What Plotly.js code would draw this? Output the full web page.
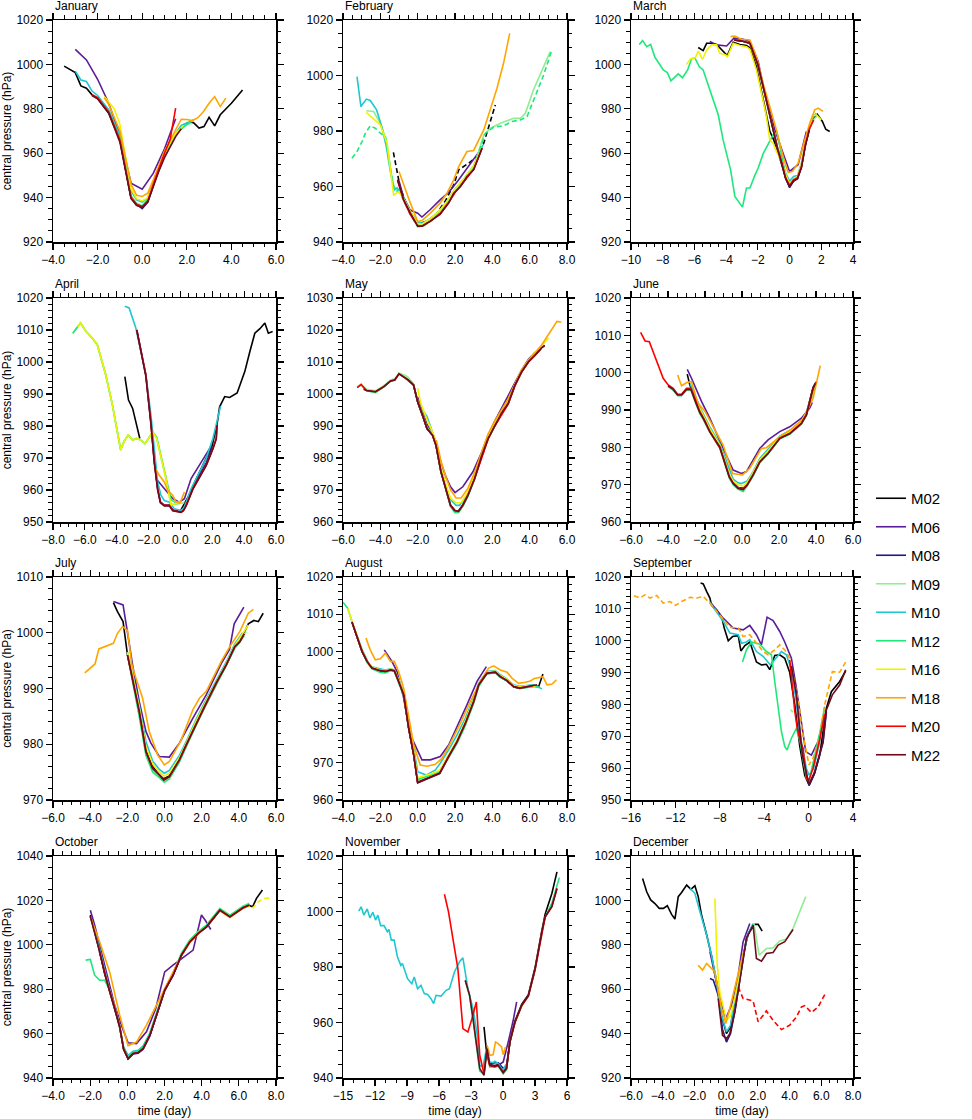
<!DOCTYPE html>
<html><head><meta charset="utf-8">
<script src="https://cdn.plot.ly/plotly-3.0.1.min.js"></script>
<style>html,body{margin:0;padding:0;background:#fff}#chart{width:972px;height:1119px}</style>
</head><body><div id="chart"></div>
<script>
const MODELS = ['M02','M06','M08','M09','M10','M12','M16','M18','M20','M22'];
const COLORS = ['#000000','#5a1d9a','#1a1a8c','#90ee90','#1ec8d2','#1ee87a','#f2f200','#ffa500','#ff0000','#700a1c'];
const MONTHS = ['January','February','March','April','May','June','July','August','September','October','November','December'];

// ---- January ----
const jan_M02 = [[-3.5,999.2],[-3,996.3],[-2.75,990.3],[-2.5,989.3],[-2.25,986.3],[-2,984.6],[-1.5,978],[-1,966],[-0.5,940],[-0.25,936.5],[0,936],[0.25,938.5],[0.5,946],[1,959],[1.5,968.5],[2,973.5],[2.3,973.8],[2.55,971.3],[2.77,972],[3,976.2],[3.25,972.3],[3.5,977.3],[4,982.5],[4.5,988.5]];
const jan_M06 = [[-3,1006.8],[-2.5,1002],[-2,993.3],[-1.5,982.5],[-1,968],[-0.5,946.5],[0,943.8],[0.5,951],[1,962],[1.5,975.5]];
const jan_M08 = [[-2,985],[-1.5,978.5],[-1,966],[-0.5,940],[-0.25,937],[0,935],[0.25,938],[0.5,946],[0.75,953],[1,959],[1.5,968.5],[1.75,972]];
const jan_M09 = [[-2,985],[-1.5,978.5],[-1,966.5],[-0.5,941],[-0.25,937.5],[0,936.5],[0.25,939.5],[0.5,946.5],[1,959.5],[1.5,968.5],[1.75,972],[2,973],[2.25,973.5]];
const jan_M10 = [[-3,997],[-2.75,993],[-2.5,992.3],[-2.25,988],[-2,986],[-1.5,979.5],[-1,968],[-0.5,943],[-0.25,939],[0,938],[0.25,940],[0.5,947],[1,960],[1.5,969],[1.75,972.5],[2,973.5],[2.3,975]];
const jan_M12 = [[-2.25,986],[-2,985],[-1.5,978.5],[-1,966.5],[-0.5,940.5],[-0.25,937],[0,936],[0.25,939],[0.5,946],[0.75,953],[1,959],[1.5,968],[1.75,971],[2,973],[2.3,975]];
const jan_M16 = [[-1.7,985.5],[-1.25,980],[-1,973],[-0.5,944],[-0.25,939.5],[0,938.5],[0.25,940],[0.5,946],[1,960],[1.5,969],[1.85,972.5]];
const jan_M18 = [[-1.7,985],[-1.5,982],[-1,970],[-0.5,946],[-0.25,941],[0,940.5],[0.25,942],[0.5,948],[1,961],[1.5,970.5],[1.75,975.3],[2,975.2],[2.25,974.7],[2.5,976],[2.75,978.8],[3,982.5],[3.25,985.5],[3.5,981],[3.75,984.8]];
const jan_M20 = [[-2.25,986.3],[-2,985],[-1.5,978.5],[-1,966],[-0.5,940],[-0.25,937],[0,936],[0.25,938.5],[0.5,946],[0.75,953.5],[1,960],[1.25,966],[1.42,975],[1.5,980.3]];
const jan_M22 = [[-2.25,986],[-2,984.5],[-1.5,978],[-1,965],[-0.5,939.5],[-0.25,936.5],[0,935.5],[0.25,938],[0.5,945],[0.75,952],[1,958],[1.5,967.5],[1.75,971]];

// ---- February ----
const feb_M02 = [[-1.3,972.3],[-1.1,964.8],[-0.93,959.4],[-0.5,952],[0,946.5],[0.5,947.5],[1,950],[1.5,955],[1.93,960.6],[2.2,966],[2.73,968.4],[3.18,970.8],[3.54,975.6],[4.16,989.4]];
const feb_M06 = [[-1,962],[-0.75,956],[-0.4,951.5],[0,950.4],[0.23,949],[0.68,951.7],[1.2,955.2],[1.66,957.9],[2.2,962.4],[2.9,969],[3.36,973.2]];
const feb_M08 = [[-1.07,962.4],[-0.75,955.5],[-0.4,950.5],[0,946],[0.25,945.8],[0.7,947.8],[1.2,950.5],[1.66,954.5],[2,958],[2.5,962],[3,966.5],[3.45,974]];
const feb_M09 = [[-2.75,987.3],[-2.36,987],[-2,982.8],[-1.68,976.8],[-1.3,960],[-1,958.5],[-0.75,955.5],[-0.4,950.5],[0,946],[0.25,946],[0.7,948],[1.2,951],[1.66,955],[2,958.5],[2.5,962.5],[3,967],[3.54,978.6],[3.9,981],[4.43,982.8],[4.8,983.8],[5.14,984.6],[5.5,984.6],[5.77,986.4],[6.2,994.8],[7.1,1008.6]];
const feb_M10 = [[-3.25,999.6],[-3.04,988.8],[-2.75,991.5],[-2.54,991],[-2.2,987.6],[-1.9,981],[-1.68,974.4],[-1.45,965],[-1.25,958.8],[-1.1,959.5],[-0.75,956],[-0.4,951],[0,947],[0.25,946.8],[0.7,948.5],[1.2,951.5],[1.66,955.5],[2,959],[2.5,963],[3,967.5],[3.5,975]];
const feb_M12 = [[-3.52,970.2],[-3.25,972.6],[-2.98,976.2],[-2.8,979.2],[-2.54,981.9],[-2.27,981],[-2,979.2],[-1.73,978],[-1.45,966],[-1.25,959],[-1,958],[-0.75,955],[-0.4,950],[0,945.5],[0.25,945.5],[0.7,947.5],[1.2,950.5],[1.66,954.5],[2,958],[2.5,962],[3,967],[3.63,979.2],[4.07,981.4],[4.6,981.9],[5.05,983.4],[5.5,984],[5.86,985.2],[6.2,991.2],[6.75,1000.2],[7.16,1008.6]];
const feb_M16 = [[-2.75,986.7],[-2,982.2],[-1.64,975.6],[-1.29,957],[-1,958.2],[-0.75,955.5],[-0.4,951],[0,946.5],[0.25,946.5],[0.7,948.5],[1.2,951.5],[1.66,955.5],[2,959],[2.5,963],[3,967.5],[3.45,974]];
const feb_M18 = [[-1,965.4],[-0.75,960.6],[-0.39,954],[0,947.4],[0.23,947.7],[0.68,950.4],[1.2,954],[1.57,957.6],[1.93,962.4],[2.2,967.2],[2.64,972.6],[3,973],[3.54,980.4],[4.25,995.4],[4.6,1004.4],[4.93,1015.2]];
const feb_M20 = [[-1.07,962],[-0.75,955],[-0.4,950],[0,945.8],[0.25,945.8],[0.7,947.5],[1.2,950.2],[1.66,954.2],[2,957.8],[2.5,961.8],[3,966.2],[3.45,973.8]];
const feb_M22 = [[-1.07,962.4],[-0.75,955.2],[-0.39,950.4],[0,945.7],[0.23,945.7],[0.68,947.5],[1.2,949.9],[1.66,954],[1.93,957.6],[2.3,960],[2.64,963.6],[3,966],[3.45,973.8]];

// ---- March ----
const mar_M02 = [[-5.76,1007.6],[-5.45,1006.2],[-5.23,1009.5],[-4.92,1009.5],[-4.6,1009],[-4.2,1006],[-3.93,1004],[-3.56,1010],[-3.14,1009],[-2.72,1008.5],[-2.5,1007.5],[-2.09,999],[-1.77,988],[-1.46,977],[-1.25,970],[-1,966],[-0.75,961],[-0.5,955],[-0.25,949],[0,945],[0.25,947.5],[0.5,949],[0.75,954],[1,964],[1.25,971],[1.5,975.5],[1.75,977.5],[2.07,974.3],[2.28,970.8],[2.53,969.8]];
const mar_M06 = [[-5.03,1010.3],[-4.6,1008.8],[-3.97,1008.3],[-3.51,1011.8],[-2.93,1011.3],[-2.5,1010.3],[-1.98,1001.3],[-1.56,987],[-1.25,979.5],[-0.93,970.5],[-0.41,960],[0,951.8],[0.54,954.8],[1.06,969.8]];
const mar_M08 = [[-3.5,1011],[-3,1010.5],[-2.5,1009.5],[-2,1000],[-1.5,985],[-1,969.5],[-0.75,962],[-0.5,956],[-0.25,949],[0,944.5],[0.25,947.5],[0.5,948.5],[0.75,954],[1,964],[1.25,971]];
const mar_M09 = [[-3.5,1011],[-3,1010.5],[-2.5,1009.5],[-2,1000],[-1.5,985],[-1,969.5],[-0.75,962],[-0.5,957],[-0.25,950],[0,946.5],[0.25,948.5],[0.5,949],[0.75,954.5],[1,964],[1.25,971],[1.5,975],[1.75,977]];
const mar_M10 = [[-3.5,1011],[-3,1010.5],[-2.5,1009.5],[-2,1000],[-1.5,985],[-1,969.5],[-0.75,962],[-0.5,957.5],[-0.25,951],[0,947.5],[0.25,949.5],[0.5,950],[0.75,955.5],[1,965],[1.25,972],[1.5,976.5],[1.69,978]];
const mar_M12 = [[-9.48,1009],[-9.27,1010.7],[-9.01,1008],[-8.76,1009],[-8.49,1003.2],[-7.96,997.5],[-7.71,996.3],[-7.48,992.6],[-7.02,995.7],[-6.75,994],[-6.43,997.5],[-6.18,1002.6],[-5.97,1002.9],[-5.7,999],[-5.45,997.5],[-5.03,988.5],[-4.65,979.5],[-4.5,977.3],[-4.19,966],[-3.72,952.5],[-3.45,940.5],[-3.14,937.2],[-2.97,935.7],[-2.72,944.3],[-2.5,944.3],[-2.19,950],[-1.98,953.3],[-1.67,959.7],[-1.35,964.2],[-1.04,968.3],[-0.79,969.3],[-0.51,960],[-0.25,950],[0,946],[0.25,948],[0.5,949],[0.75,954.5],[1,964],[1.25,971],[1.5,975]];
const mar_M16 = [[-6.5,1000],[-6.25,1002.5],[-5.95,1003],[-5.76,1006],[-5.49,1002.3],[-5.23,1006.5],[-4.92,1008.8],[-4.6,1008.8],[-4.4,1005],[-4.02,1004.3],[-3.93,1003.2],[-3.56,1009.5],[-3.14,1008.5],[-2.72,1008],[-2.5,1006.8],[-2.09,997.5],[-1.77,987],[-1.46,976.5],[-1.25,966],[-1.04,964.5],[-0.83,960.8],[-0.5,956],[-0.25,950.5],[0,946],[0.25,948],[0.5,949.5],[0.75,955],[1,965],[1.25,972],[1.44,976.8],[1.69,977.3],[2,975]];
const mar_M18 = [[-3.72,1012.5],[-3.45,1012.8],[-3.03,1011.3],[-2.5,1011],[-2.09,1003.5],[-1.67,991.5],[-1.25,981],[-0.83,970.5],[-0.41,958.5],[-0.09,951.3],[0.18,951.8],[0.54,955.5],[0.96,966],[1.27,973.5],[1.59,979.5],[1.8,980.3],[2.11,978.8]];
const mar_M20 = [[-3.5,1011],[-3,1010.5],[-2.5,1009.5],[-2,1000],[-1.5,985],[-1,969],[-0.75,962],[-0.5,956],[-0.25,949],[0,945.5],[0.25,948],[0.5,949],[0.75,954],[1,964],[1.25,971],[1.52,975]];
const mar_M22 = [[-3.5,1011],[-3,1010.5],[-2.5,1009.5],[-2,1000],[-1.5,985],[-1,969],[-0.75,961.5],[-0.5,955.5],[-0.25,948.5],[0,945],[0.25,947.5],[0.5,948.5],[0.75,953.5],[1,963.5],[1.25,970.5]];

// ---- April ----
const apr_M02 = [[-3.49,995.4],[-3.26,988.1],[-3,985.5],[-2.8,981.3],[-2.55,976.1],[-2.4,null],[0,953.5],[0.5,958],[1,963.5],[1.5,968.5],[2,974],[2.3,980.5],[2.46,986],[2.78,989.2],[3.09,988.9],[3.56,990.3],[4.04,997],[4.36,1003.3],[4.67,1009],[4.99,1010.4],[5.3,1012.2],[5.52,1009],[5.79,1009.5]];
const apr_M06 = [[-1.54,963.6],[-1.01,960.4],[-0.48,957.3],[-0.06,956.2],[0.25,957.3],[0.67,963.6],[1.2,967.8],[1.83,973],[1.9,973.5]];
const apr_M08 = [[-2.74,1010],[-2.48,1003.3],[-2.17,996],[-1.85,981],[-1.64,969],[-1.43,960.5],[-1.26,956.3],[-1.01,955.3],[-0.69,955.3],[-0.48,953.8],[0.04,953.2],[0.19,953.8],[0.36,955.5],[0.78,960.6],[1.2,964.5],[1.62,968.5],[2,973.5]];
const apr_M09 = [[-6.76,1009],[-6.27,1012.2],[-5.92,1009.5],[-5.54,1007.5],[-5.22,1005.4],[-4.69,996],[-4.27,986.6],[-3.96,978.2],[-3.75,972.5],[-3.54,975.2],[-3.28,977.2],[-3,975.6],[-2.76,976.1],[-2.48,975.6],[-2.23,974.5],[-2,976.1],[-1.75,978.2],[-1.49,976.1],[-1.22,970.4],[-0.91,963.6],[-0.59,955.5],[-0.3,955.5],[0,955.8],[0.25,956]];
const apr_M10 = [[-3.49,1017.4],[-3.22,1016.9],[-2.8,1010.6],[-2.48,1003.3],[-2.17,996],[-1.85,983.4],[-1.64,971.9],[-1.43,962.5],[-1.22,958.3],[-1.01,956.7],[-0.69,956.2],[-0.38,954.1],[0.04,953.6],[0.25,954.7],[0.67,960.4],[1.2,965.7],[1.62,969.9],[2.04,976.1],[2.46,985.5],[2.52,986.2]];
const apr_M12 = [[-6.76,1009],[-6.27,1012.2],[-5.92,1009.5],[-5.54,1007.5],[-5.22,1005.4],[-4.69,996],[-4.27,986.6],[-3.96,978.2],[-3.75,972.5],[-3.54,975.2],[-3.28,977.2],[-3,975.6],[-2.76,976.1],[-2.48,975.6],[-2.23,974.5],[-2,976.1],[-1.75,978.2],[-1.49,976.5],[-1.22,971],[-0.91,964],[-0.59,957],[-0.3,956],[0,956]];
const apr_M16 = [[-6.45,1011],[-6.27,1012.2],[-5.92,1009.5],[-5.54,1007.5],[-5.22,1005.4],[-4.69,996],[-4.27,986.6],[-3.96,978.2],[-3.75,972.5],[-3.54,975.2],[-3.28,977.2],[-3,975.6],[-2.76,976.1],[-2.48,975.6],[-2.23,974.5],[-2,976.1],[-1.75,978.2],[-1.49,976.1],[-1.22,970.4],[-0.91,963.6],[-0.59,955.2],[-0.3,955.8],[0,956.5]];
const apr_M18 = [[-1.58,966.7],[-1.33,964.6],[-1.01,962.5],[-0.8,959.9],[-0.48,958.3],[-0.27,956.2],[0,956.2],[0.25,959.4]];
const apr_M20 = [[-2.74,1010],[-2.48,1003.3],[-2.17,996],[-1.85,981],[-1.64,968.8],[-1.43,960.4],[-1.26,956.2],[-1.01,955.2],[-0.69,955.2],[-0.48,953.6],[0.04,953.1],[0.19,953.6],[0.36,955.2],[0.78,960.4],[1.2,964.1],[1.62,967.8],[2.04,973],[2.25,976.1],[2.3,980.3]];
const apr_M22 = [[-2.74,1010],[-2.48,1003],[-2.17,995.5],[-1.85,980.5],[-1.64,968.5],[-1.43,960],[-1.26,956],[-1.01,955],[-0.69,955],[-0.48,953.5],[0.04,953],[0.19,953.5],[0.36,955],[0.78,960.2],[1.2,964],[1.62,967.6],[2.04,972.8],[2.25,976],[2.3,980.2]];

// ---- May ----
const may_M02 = [[-2.64,1004.9],[-2.22,1002.8],[-2,997.6],[-1.74,993.4],[-1.5,989.2],[-1.2,987.1],[-1.02,984],[-0.75,975.7],[-0.48,970.4],[-0.24,965.2],[0,963.6],[0.19,963.5],[0.42,965.3],[0.69,968.5],[1.05,973.8],[1.41,980.6],[1.77,986.2],[2.13,990.4],[2.49,994.1],[2.85,997.3],[3.21,1003],[3.57,1007.2],[3.93,1010.3],[4.29,1012.3],[4.65,1014.6],[4.8,1015.2]];
const may_M06 = [[-2,999],[-1.74,994.5],[-1.5,990.5],[-1.2,987.5],[-1.02,985],[-0.75,978.5],[-0.48,974],[-0.24,971],[0,969.2],[0.42,971],[0.96,975.7],[1.41,981.5],[1.77,987],[2.13,991.5],[2.49,995.5],[2.85,999],[3.21,1003.5],[3.57,1007.5],[3.93,1010.8],[4.29,1013]];
const may_M08 = [[-2.22,1002.8],[-2,997.6],[-1.74,993.4],[-1.5,989.2],[-1.2,987.1],[-1.02,984],[-0.75,975.7],[-0.48,970.4],[-0.24,965.2],[0,963.4],[0.19,963.2],[0.42,965.2],[0.69,968.3],[1.05,973.6],[1.41,980.4],[1.77,986.1],[2.13,990.3],[2.49,994],[2.85,997.1],[3.21,1002.8],[3.57,1007],[3.93,1010.1],[4.29,1012.2],[4.5,1013.5]];
const may_M09 = [[-5.24,1002.3],[-5.03,1003],[-4.74,1001.5],[-4.26,1001],[-3.81,1002.6],[-3.45,1004.4],[-3.23,1004.8],[-3,1006.6],[-2.64,1005.7],[-2.51,1005.2],[-2.22,1003.2],[-2,998],[-1.74,993.8],[-1.5,989.6],[-1.2,987.4],[-1.02,984.3],[-0.75,976],[-0.48,970.6],[-0.24,965.4],[0,963.2],[0.19,963.1],[0.42,965],[0.69,968.1],[1.05,973.4],[1.41,980.2],[1.77,986],[2.13,990.2],[2.49,993.9],[2.85,997],[3.21,1002.7],[3.57,1006.9],[3.93,1010],[4.29,1012.1],[4.65,1014.4]];
const may_M10 = [[-1.74,995],[-1.5,993],[-1.2,988],[-1.02,985],[-0.75,977],[-0.48,971],[-0.24,967],[0.06,965.2],[0.24,965.2],[0.69,968.5],[1.05,974],[1.41,980.5],[1.77,986.5],[2.13,990.5],[2.49,994.5],[2.85,998],[3.21,1003],[3.57,1007],[3.93,1010.3],[4.29,1012.5],[4.5,1013.5]];
const may_M12 = [[-5.24,1002],[-5.03,1002.8],[-4.74,1001],[-4.26,1000.4],[-3.81,1002.2],[-3.45,1004],[-3.23,1004.3],[-3,1006.2],[-2.64,1005],[-2.51,1004.4],[-2.22,1002.8],[-2,997.6],[-1.74,993.4],[-1.5,989.2],[-1.2,987.1],[-1.02,984],[-0.75,975.5],[-0.48,970],[-0.24,964.8],[0,962.9],[0.19,963],[0.42,965],[0.69,968],[1.05,973.4],[1.41,980.2],[1.77,986],[2.13,990.2],[2.49,993.9],[2.85,997],[3.21,1002.7],[3.57,1006.9],[3.93,1010],[4.29,1012.1],[4.65,1014.4]];
const may_M16 = [[-2,1001.8],[-1.83,997],[-1.5,992],[-1.2,988],[-1.02,985],[-0.75,977],[-0.48,971.5],[-0.24,967.5],[0.06,966],[0.33,966],[0.69,969.5],[1.05,974.5],[1.41,981],[1.77,987],[2.13,991],[2.49,994.5],[2.85,998],[3.21,1003],[3.57,1007.5],[3.93,1010.5],[4.29,1013],[4.65,1015],[5,1017.5]];
const may_M18 = [[-1,985.6],[-0.75,979],[-0.48,974],[-0.24,970],[0.06,967.5],[0.33,967.5],[0.69,970.5],[1.05,975.5],[1.41,981.5],[1.77,987.5],[2.13,991.5],[2.49,995],[2.85,998.5],[3.21,1003],[3.57,1007.5],[3.93,1010.5],[4.29,1013],[4.65,1015.4],[5,1018.5],[5.46,1022.7],[5.7,1022.4]];
const may_M20 = [[-5.24,1002],[-5.03,1003],[-4.74,1001.1],[-4.26,1000.7],[-3.81,1002.3],[-3.45,1004.1],[-3.23,1004.4],[-3,1006.3],[-2.64,1004.9],[-2.51,1004.4],[-2.22,1002.8],[-2,997.6],[-1.74,993.4],[-1.5,989.2],[-1.2,987.1],[-1.02,984],[-0.75,975.7],[-0.48,970.4],[-0.24,965.2],[0,963.6],[0.19,963.4],[0.42,965.3],[0.69,968.4],[1.05,973.5],[1.41,980],[1.77,985.8],[2.13,990],[2.49,993.6],[2.85,996.8],[3.21,1002.5],[3.57,1006.8],[3.93,1009.9],[4.29,1012],[4.6,1014]];
const may_M22 = [[-4.9,1001.5],[-4.74,1001.1],[-4.26,1000.7],[-3.81,1002.3],[-3.45,1004.1],[-3.23,1004.4],[-3,1006.3],[-2.64,1004.9],[-2.51,1004.4],[-2.22,1002.8],[-2,997.6],[-1.74,993.4],[-1.5,989.2],[-1.2,987.1],[-1.02,984],[-0.75,975.7],[-0.48,970.4],[-0.24,965.2],[-0.03,963.6],[0.19,963.3],[0.42,965.2],[0.69,968.3],[1.05,973.6],[1.41,980.4],[1.77,986.1],[2.13,990.3],[2.49,994],[2.85,997.1],[3.21,1002.8],[3.57,1007],[3.93,1010.1],[4.29,1012.2],[4.65,1014.5],[4.8,1015]];

// ---- June ----
const jun_M02 = [[-2.96,999.6],[-2.82,996.7],[-2.5,993],[-2.2,989.5],[-1.74,985],[-1.2,980.5],[-0.93,976.5],[-0.69,972.5],[-0.48,970.5],[-0.21,969.2],[0.06,969],[0.28,970],[0.6,972.8],[0.96,976.3],[1.41,978.6],[1.77,980.8],[2.04,982.6],[2.58,984],[3.21,986.6],[3.48,989],[3.84,996],[4,997.5]];
const jun_M06 = [[-2.96,1000.9],[-2.73,998.5],[-2.19,992.3],[-1.74,987.8],[-1.02,979.7],[-0.48,973.9],[-0.03,973],[0.24,973.5],[0.96,979.7],[1.41,982],[2.04,984.2],[2.58,985.5],[3.21,987.8],[3.66,990.5],[3.8,992]];
const jun_M08 = [[-2.5,992],[-2.2,989],[-1.74,984.5],[-1.2,980.3],[-0.93,976.3],[-0.69,972.3],[-0.48,970.4],[-0.21,969.1],[0.06,968.9],[0.28,970],[0.6,972.7],[0.96,976.2],[1.41,978.5],[1.77,980.7],[2.04,982.5],[2.58,983.8],[3.21,986.5],[3.48,988.8],[3.84,995.6]];
const jun_M09 = [[-2.6,993.5],[-2.28,989.8],[-1.74,984.5],[-1.2,980.4],[-0.93,976.4],[-0.69,972.4],[-0.48,970.5],[-0.21,969.2],[0.06,968.5],[0.28,970.2],[0.6,972.9],[0.96,976.4],[1.41,978.7],[1.77,980.9],[2.04,982.7],[2.58,984],[3.21,986.7],[3.48,989],[3.84,995.5],[3.98,996.5]];
const jun_M10 = [[-2.8,997],[-2.5,993.5],[-2.2,990],[-1.74,985.5],[-1.2,981],[-0.93,977.5],[-0.69,974],[-0.48,971.5],[-0.21,970.5],[-0.03,970.3],[0.28,971],[0.6,973.5],[0.96,977],[1.41,979.5],[1.77,981.5],[2.04,983],[2.58,984.5],[3.21,987],[3.48,989.5],[3.84,994.5],[3.98,996.3]];
const jun_M12 = [[-4,996.3],[-3.72,995.3],[-3.48,993.8],[-3.27,993.8],[-3,995.3],[-2.76,995.3],[-2.5,991.8],[-2.28,989],[-2.1,987.5],[-1.74,984],[-1.2,979.8],[-0.93,975.8],[-0.69,971.8],[-0.48,970],[-0.21,968.8],[0.06,968.2],[0.28,969.6],[0.6,972.3],[0.96,975.8],[1.41,978.2],[1.77,980.4],[2.04,982.2],[2.58,983.5],[3.21,986.2],[3.48,988.5],[3.84,995.5],[3.95,996.8]];
const jun_M16 = [[-2.5,992.5],[-2.2,989.5],[-1.74,985],[-1.2,980.6],[-0.93,976.6],[-0.69,972.8],[-0.48,971],[-0.21,970],[0.06,969.6],[0.28,970.6],[0.6,973.2],[0.96,976.6],[1.41,979],[1.77,981],[2.04,982.8],[2.58,984.2],[3.21,986.8],[3.48,989.2],[3.84,995]];
const jun_M18 = [[-3.48,999.4],[-3.27,996.5],[-2.96,997.4],[-2.73,997.6],[-2.4,992],[-2,989.6],[-1.5,985],[-1.02,980.6],[-0.51,973],[0.03,972.6],[0.42,974.4],[1.05,979.7],[1.32,979.9],[2.04,982.8],[2.67,984.9],[3.3,987.6],[3.84,993.1],[4.23,1001.9]];
const jun_M20 = [[-5.48,1010.8],[-5.24,1008.5],[-5.01,1008.3],[-4.71,1004.3],[-4.26,998.5],[-3.99,996.7],[-3.72,995.8],[-3.48,994.2],[-3.27,994.2],[-3,995.8],[-2.76,995.8],[-2.5,992.5],[-2.28,989.6],[-2,987],[-1.74,984.2],[-1.2,979.9],[-0.93,976],[-0.69,972.2],[-0.48,970.5],[-0.21,969.2],[0.06,968.8],[0.28,970],[0.6,972.6],[0.96,976.1],[1.41,978.4],[1.77,980.6],[2.04,982.4],[2.58,983.7],[3.21,986.4],[3.48,988.7],[3.84,995.8],[4,997.5]];
const jun_M22 = [[-4,996.5],[-3.72,995.5],[-3.48,994],[-3.27,994],[-3,995.5],[-2.76,995.5],[-2.5,992],[-2.28,989.3],[-2.1,987.8],[-1.74,984.2],[-1.2,980.1],[-0.93,976.1],[-0.69,972.1],[-0.48,970.3],[-0.21,969],[0.06,968.7],[0.28,969.9],[0.6,972.6],[0.96,976.1],[1.41,978.4],[1.77,980.6],[2.04,982.4],[2.58,983.7],[3.21,986.4],[3.48,988.7],[3.84,995.8],[3.95,997]];

// ---- July ----
const jul_M02 = [[-2.75,1005.4],[-2.53,1003.8],[-2.23,1002],[-2.08,998.4],[-1.99,996],[-1.72,992],[-1.36,986],[-1,979],[-0.64,976],[-0.28,974.5],[-0.04,973.8],[0.26,974.3],[0.8,977.3],[1.17,980],[1.71,983.8],[2.16,986.8],[2.79,991],[3.33,994.3],[3.78,997.5],[4.05,998.5],[4.29,1000],[4.51,1001.6],[4.81,1002.2],[5.05,1002],[5.31,1003.5]];
const jul_M06 = [[-2.75,1005.6],[-2.23,1005],[-1.99,1000],[-1.72,994.3],[-1.36,987.7],[-1,982.3],[-0.73,980.2],[-0.28,977.8],[0.26,977.7],[0.8,980.2],[1.53,984.7],[2.25,988.9],[3.06,994.5],[3.5,997],[3.75,1001.6],[4.27,1004.6]];
const jul_M08 = [[-1.99,996],[-1.72,991.8],[-1.36,985.8],[-1,978.6],[-0.64,975.6],[-0.28,974.4],[-0.04,973.5],[0.26,974.1],[0.8,977.1],[1.17,979.8],[1.71,983.7],[2.16,986.7],[2.79,990.9],[3.33,994.2],[3.78,997.4],[4.05,998.3]];
const jul_M09 = [[-1.99,996.2],[-1.72,991.6],[-1.36,985.3],[-1,978.3],[-0.64,975.3],[-0.28,974.2],[-0.01,973.4],[0.26,974],[0.8,977],[1.17,979.7],[1.71,983.6],[2.16,986.6],[2.79,990.8],[3.33,994.1],[3.78,997.6],[4.05,998.8],[4.4,1000.2]];
const jul_M10 = [[-1.99,996.5],[-1.72,992.5],[-1.36,987],[-1,980.5],[-0.64,977],[-0.28,975.5],[-0.01,974.8],[0.26,975.3],[0.8,978],[1.17,980.5],[1.71,984.5],[2.16,987.5],[2.79,991.5],[3.33,994.8],[3.78,998],[4.2,1000]];
const jul_M12 = [[-1.99,996],[-1.72,991.5],[-1.36,985],[-1,978],[-0.64,975],[-0.28,974],[-0.01,973.2],[0.26,973.8],[0.8,976.8],[1.17,979.5],[1.71,983.5],[2.16,986.5],[2.79,990.7],[3.33,994],[3.78,997.2],[4.05,998.3],[4.29,999.5]];
const jul_M16 = [[-1.99,996.5],[-1.72,992.3],[-1.36,986.5],[-1,979.5],[-0.64,976.5],[-0.28,975],[-0.01,974.3],[0.26,974.8],[0.8,977.6],[1.17,980.2],[1.71,984.2],[2.16,987.2],[2.79,991.2],[3.33,994.5],[3.78,997.7],[4.3,1000.5],[4.51,1001.4]];
const jul_M18 = [[-4.29,992.8],[-3.74,994.4],[-3.53,997.1],[-3.17,997.5],[-2.75,998.1],[-2.53,999.9],[-2.26,1001.1],[-1.99,1000.4],[-1.76,994.3],[-1.54,991.9],[-1.18,988.3],[-0.82,982.3],[-0.37,978.1],[-0.01,976.3],[0.26,976.9],[0.9,980.8],[1.53,986.2],[1.89,988.3],[2.25,989.5],[2.61,991.9],[3.06,994.9],[3.51,997.5],[4.05,1000.2],[4.51,1003.5],[4.78,1004.2]];
const jul_M20 = [[-1.99,996],[-1.72,991.9],[-1.36,985.9],[-1,978.7],[-0.64,975.7],[-0.28,974.5],[-0.04,973.6],[0.26,974.2],[0.8,977.2],[1.17,979.9],[1.71,983.8],[2.16,986.8],[2.79,991],[3.33,994.3],[3.78,997.5],[4.05,998.4],[4.29,999.8]];
const jul_M22 = [[-1.99,996],[-1.72,991.9],[-1.36,985.9],[-1,978.7],[-0.64,975.7],[-0.28,974.5],[-0.04,973.6],[0.26,974.2],[0.8,977.2],[1.17,979.9],[1.71,983.8],[2.16,986.8],[2.79,991],[3.33,994.3],[3.78,997.5],[4.05,998.4],[4.29,999.8]];

// ---- August ----
const aug_M02 = [[-3.52,1007.9],[-3.25,1004],[-2.98,1000],[-2.71,997.3],[-2.45,995.5],[-2,994.8],[-1.73,994.6],[-1.46,995],[-1.25,994.8],[-1.02,991.9],[-0.75,988.3],[-0.48,979.3],[-0.21,972.1],[0,964.9],[0.32,965.5],[0.68,966.4],[1.18,967.3],[1.66,971.8],[2.11,975.8],[2.55,980.7],[3,986.6],[3.27,991],[3.71,994.1],[4.16,994.4],[4.43,993.2],[4.79,992.1],[5.14,990.5],[5.46,990.1],[5.86,990.5],[6.21,990.8],[6.48,990.5],[6.71,993.9]];
const aug_M06 = [[-1.79,1000.4],[-1.38,997.3],[-1.11,994.6],[-0.75,987.4],[-0.39,977.5],[0,973],[0.23,970.8],[0.68,970.8],[1.21,971.7],[1.66,974.8],[2.29,981.5],[2.64,985.6],[3.18,991.9],[3.68,995.9]];
const aug_M08 = [[-3.52,1007.9],[-3.25,1004],[-2.98,1000],[-2.71,997.3],[-2.45,995.5],[-2,994.8],[-1.73,994.6],[-1.46,995],[-1.25,994.8],[-1.02,991.9],[-0.75,988.3],[-0.48,979.3],[-0.21,972.1],[0,964.6],[0.32,965.3],[0.68,966.2],[1.18,967.1],[1.66,971.6],[2.11,975.6],[2.55,980.5],[3,986.4],[3.27,990.9],[3.71,994],[4.16,994.3],[4.43,993.1],[4.79,992],[5.14,990.4],[5.46,990],[5.86,990.4],[6.21,990.7]];
const aug_M09 = [[-3.52,1008],[-3.25,1004.2],[-2.98,1000.2],[-2.71,997.4],[-2.45,995.6],[-2,994.9],[-1.73,994.7],[-1.46,995.1],[-1.25,994.9],[-1.02,992],[-0.75,988.4],[-0.48,979.6],[-0.21,972.5],[0,965.2],[0.32,965.8],[0.68,966.6],[1.18,967.6],[1.66,972],[2.11,976],[2.55,981],[3,986.8],[3.27,991.2],[3.71,994.3],[4.16,994.6],[4.43,993.4],[4.79,992.3],[5.14,990.7],[5.46,990.3],[5.86,990.7],[6.21,991]];
const aug_M10 = [[-3.52,1008],[-3.25,1004.5],[-2.98,1000.5],[-2.54,995.9],[-2,995.3],[-1.73,995],[-1.46,995.3],[-1.25,995],[-1.02,992.5],[-0.75,989],[-0.48,980.5],[-0.21,974],[0,967.6],[0.46,966.7],[0.95,968.1],[1.21,969.9],[1.66,973.5],[2.11,977.5],[2.55,982],[3,987.5],[3.27,991.5],[3.71,994.6],[4.16,994.8],[4.43,993.7],[4.79,992.5],[5.14,991],[5.46,990.6],[5.86,990.8],[6.21,991],[6.66,989.9]];
const aug_M12 = [[-4,1013.2],[-3.75,1011.6],[-3.52,1008],[-3.25,1004],[-2.98,1000],[-2.71,997],[-2.45,995.3],[-2,994.3],[-1.73,994.2],[-1.46,994.8],[-1.25,994.6],[-1.02,991.5],[-0.75,988],[-0.48,979.5],[-0.21,972.5],[0,965.5],[0.32,966],[0.68,966.6],[1.18,967.5],[1.66,971.5],[2.11,975.2],[2.55,980],[3,986],[3.27,990.5],[3.71,994],[4.16,994.2],[4.43,993],[4.79,992],[5.14,990.5],[5.46,990],[5.86,990.3],[6.21,990.5],[6.5,990.3]];
const aug_M16 = [[-3.75,1011.6],[-3.52,1008],[-3.25,1004.2],[-2.98,1000.2],[-2.71,997.5],[-2.45,995.7],[-2,995],[-1.73,994.8],[-1.46,995.2],[-1.25,995],[-1.02,992.2],[-0.75,988.6],[-0.48,980],[-0.21,973],[0,966],[0.32,966.4],[0.68,967],[1.18,968],[1.66,972.2],[2.11,976.2],[2.55,981.2],[3,987],[3.27,991.3],[3.71,994.4],[4.16,994.7],[4.43,993.5],[4.79,992.4],[5.14,990.8],[5.46,990.4],[5.86,990.8],[6.3,990.4]];
const aug_M18 = [[-2.77,1003.6],[-2.54,1000.4],[-2.27,997.7],[-2,998],[-1.73,999.5],[-1.46,997.3],[-1.25,997.3],[-1.02,994.6],[-0.75,990.1],[-0.48,982.9],[-0.21,974.8],[0.14,969.4],[0.5,969.1],[0.95,969.6],[1.3,971.2],[1.66,974.4],[2.29,980.6],[2.82,986.5],[3.36,991.9],[3.8,995.5],[4.07,996.1],[4.43,995],[4.79,994.4],[5.05,992.8],[5.41,991.4],[5.77,991.7],[6.04,992],[6.21,992.6],[6.48,993],[6.71,993.2],[6.93,991],[7.2,991.2],[7.43,992.3]];
const aug_M20 = [[-3.52,1007.9],[-3.25,1004],[-2.98,1000],[-2.71,997.3],[-2.45,995.5],[-2,994.8],[-1.73,994.6],[-1.46,995],[-1.25,994.8],[-1.02,991.9],[-0.75,988.3],[-0.48,979.3],[-0.21,972.1],[0,964.7],[0.32,965.4],[0.68,966.3],[1.18,967.2],[1.66,971.7],[2.11,975.7],[2.55,980.6],[3,986.5],[3.27,991],[3.71,994.1],[4.16,994.4],[4.43,993.2],[4.79,992.1],[5.14,990.5],[5.46,990.1],[5.86,990.5],[6.21,990.8]];
const aug_M22 = [[-3.52,1007.9],[-3.25,1004],[-2.98,1000],[-2.71,997.3],[-2.45,995.5],[-2,994.8],[-1.73,994.6],[-1.46,995],[-1.25,994.8],[-1.02,991.9],[-0.75,988.3],[-0.48,979.3],[-0.21,972.1],[0,964.7],[0.32,965.4],[0.68,966.3],[1.18,967.2],[1.66,971.7],[2.11,975.7],[2.55,980.6],[3,986.5],[3.27,991],[3.71,994.1],[4.16,994.4],[4.43,993.2],[4.79,992.1],[5.14,990.5],[5.46,990.1],[5.86,990.5],[6.21,990.8],[6.4,991]];

// ---- September ----
const sep_M02 = [[-9.73,1018.1],[-9.49,1017.8],[-9.19,1015.5],[-8.89,1013.4],[-8.74,1011.1],[-8.29,1009.7],[-7.84,1007.6],[-7.6,1004],[-7.24,1000],[-6.85,1001.3],[-6.34,1001.6],[-6.1,996.8],[-5.74,998.5],[-5.29,999.6],[-4.7,993.3],[-4.25,992.4],[-3.8,992.6],[-3.5,990.9],[-3.05,995.4],[-2.6,995.6],[-2.15,994.5],[-1.7,990],[-1.25,980],[-0.8,967],[-0.35,957.8],[0.04,954.7],[0.5,958],[1,964.1],[1.6,978.8],[2.05,984],[2.8,987.2],[3.34,990.5]];
const sep_M06 = [[-8.89,1012.3],[-7.84,1007.6],[-6.79,1004],[-5.9,1003.4],[-5.3,1004.8],[-4.7,1001.9],[-4.25,998.7],[-3.74,1007.4],[-3.2,1006.3],[-2.6,1002.9],[-2.15,999.6],[-1.55,994.5],[-1.1,985.1],[-0.65,974.6],[-0.26,965.2],[0.25,964.1],[0.85,968.3],[1.45,975.7]];
const sep_M08 = [[-1.55,991.5],[-1.1,982],[-0.56,963.5],[0.04,954.5],[0.55,958.5],[1.3,968],[1.6,977.5]];
const sep_M09 = [[-1.62,978.3],[-1.4,977.6]];
const sep_M10 = [[-8.9,1012],[-8.29,1009],[-7.69,1006.1],[-7.09,1002.4],[-6.34,1001.9],[-6.04,999.2],[-5.6,999.6],[-5.3,1000.3],[-4.7,996.6],[-4.1,995.1],[-3.44,992.4],[-2.9,994.7],[-2.45,996.6],[-2,995.6],[-1.55,990.9],[-1.1,980.9],[-0.65,968.3],[-0.2,959.9],[0.04,957.8],[0.46,959.9],[1,968.3],[1.45,979.3]];
const sep_M12 = [[-5.96,993.3],[-5.6,997.1],[-5.15,999.6],[-4.4,998.9],[-3.8,996.6],[-3.35,995.6],[-3.05,987.2],[-2.75,979.9],[-2.45,971.5],[-2.15,966.8],[-1.94,965.7],[-1.55,969.4],[-1.1,972.5],[-0.75,968],[-0.4,960.5],[-0.2,956.8],[0.04,956],[0.5,963],[1,971],[1.45,979]];
const sep_M18 = [[-15.73,1014.1],[-15.19,1013.4],[-14.74,1014.4],[-14.29,1013.4],[-13.69,1014.2],[-13.09,1011.8],[-12.49,1012.3],[-11.98,1011.1],[-11.44,1012.3],[-10.69,1013.6],[-10.09,1013.4],[-9.49,1013.9],[-8.89,1011.8],[-8.29,1009.2],[-7.69,1006.6],[-7.09,1004.2],[-6.34,1004],[-5.9,1001.3],[-5.3,1001.9],[-4.7,999.2],[-4.1,996.6],[-3.65,995.6],[-3.05,997.1],[-2.6,998.7],[-2.15,997.1],[-1.7,994.5],[-1.25,987.2],[-0.86,979.9],[-0.56,971.5],[-0.2,965.2],[0.04,961],[0.4,963.1],[1,970.4],[1.45,979.9],[2.14,990.3],[2.8,990.1],[3.4,993.7]];
const sep_M20 = [[-1.7,994],[-1.25,978],[-1,972],[-0.75,968.5],[-0.5,966.2],[-0.2,956.8],[0.04,956.3],[0.4,960],[1,969],[1.45,977]];
const sep_M22 = [[-1.55,992],[-1.1,983],[-0.56,964.1],[0.04,954.9],[0.55,958.9],[1.3,968.3],[1.6,978.3],[2.14,983],[2.8,986.1],[3.34,990.9]];

// ---- October ----
const oct_M02 = [[-1.99,1013.4],[-1.76,1006],[-1.49,997],[-1.22,987],[-1,980.5],[-0.68,972],[-0.41,963],[-0.2,953.2],[0.04,948.8],[0.31,951.1],[0.58,951.5],[0.85,953.3],[1.21,959.3],[1.57,968.4],[2.01,979.6],[2.46,986.4],[2.91,995.4],[3.36,1001.4],[3.81,1005.2],[4.26,1008.2],[4.62,1012],[4.98,1015.7],[5.52,1012.7],[5.87,1014.7],[6.23,1016.8],[6.56,1017.8],[6.74,1017.1],[6.95,1020.9],[7.27,1024.7]];
const oct_M06 = [[-1.99,1015.6],[-1.76,1008.9],[-1.49,999.8],[-1.13,987.8],[-0.68,972.8],[-0.32,963.8],[0.04,955.9],[0.49,955.5],[1.03,960.8],[1.53,971.3],[2.01,987.8],[2.46,990.8],[2.91,993.8],[3.54,997.6],[3.99,1013.4],[4.22,1010.7],[4.49,1006.9]];
const oct_M08 = [[-1.5,997],[-1.22,987],[-1,980.5],[-0.68,972],[-0.41,963],[-0.2,953],[0.04,948.5],[0.31,950.8],[0.58,951.2],[0.85,953],[1.21,959],[1.57,968.2],[2.01,979.4],[2.46,986.2],[2.91,995.2],[3.36,1001.2],[3.81,1005],[4.26,1008],[4.62,1011.8],[4.98,1015.5],[5.52,1012.5],[5.87,1014.5],[6.23,1016.6],[6.5,1017.6]];
const oct_M09 = [[-1.5,997.5],[-1.22,987.5],[-1,981],[-0.68,972.5],[-0.41,963.5],[-0.2,953.8],[0.04,949.8],[0.31,951.8],[0.58,952.2],[0.85,954.2],[1.21,960.2],[1.57,969.2],[2.01,980.2],[2.46,987.2],[2.91,996.2],[3.36,1002.2],[3.81,1006],[4.26,1009],[4.62,1012.7],[4.98,1016.4],[5.52,1013.4],[5.87,1015.4],[6.23,1017.5],[6.56,1018.7]];
const oct_M10 = [[-2,1013],[-1.49,998],[-1,981],[-0.5,966],[-0.2,954],[0.04,950.2],[0.31,952],[0.58,952.5],[0.85,954.5],[1.21,960],[1.57,969],[2.01,980],[2.46,987],[2.91,995.5],[3.36,1001.5],[3.81,1005.3],[4.26,1008.3],[4.62,1012],[4.98,1015.8],[5.52,1012.8],[5.87,1014.8],[6.23,1016.9],[6.5,1018]];
const oct_M12 = [[-2.24,993.1],[-1.99,993.4],[-1.76,986.3],[-1.49,984],[-1.22,984],[-1,980.5],[-0.68,972],[-0.41,963],[-0.2,953.5],[0.04,949.5],[0.31,951.5],[0.58,952],[0.85,954],[1.21,960],[1.57,969],[2.01,980],[2.46,987],[2.91,996],[3.36,1002],[3.81,1005.8],[4.26,1008.8],[4.62,1012.5],[4.98,1016.2],[5.52,1013.2],[5.87,1015.2],[6.23,1017.3],[6.56,1018.5]];
const oct_M16 = [[6.3,1017.2],[6.56,1017.6],[6.77,1016.7],[7.04,1019.4],[7.4,1020.9],[7.76,1021.2]];
const oct_M18 = [[-1.99,1012.6],[-1.49,1001.4],[-0.95,987.8],[-0.41,968.3],[0.04,954.6],[0.49,956.2],[1.03,963.8],[1.57,972.8],[2.1,981.8],[2.82,993.8],[3.36,1001],[3.81,1005],[4.26,1008],[4.62,1011.5],[4.98,1015.3],[5.52,1012.3],[5.87,1014.3],[6.23,1016.5],[6.56,1017.5]];
const oct_M20 = [[-1.5,997],[-1.22,987],[-1,980.5],[-0.68,972],[-0.41,963],[-0.2,953],[0.04,948.8],[0.31,951],[0.58,951.4],[0.85,953.2],[1.21,959.2],[1.57,968.3],[2.01,979.5],[2.46,986.3],[2.91,995.3],[3.36,1001.3],[3.81,1005.1],[4.26,1008.1],[4.62,1011.9],[4.98,1015.6],[5.52,1012.6],[5.87,1014.6],[6.23,1016.7],[6.5,1017.7]];
const oct_M22 = [[-2,1013],[-1.76,1006],[-1.49,997],[-1.22,987],[-1,980.5],[-0.68,972],[-0.41,963],[-0.2,953],[0.04,948.7],[0.31,951],[0.58,951.4],[0.85,953.2],[1.21,959.2],[1.57,968.3],[2.01,979.5],[2.46,986.3],[2.91,995.3],[3.36,1001.3],[3.81,1005.1],[4.26,1008.1],[4.62,1011.9],[4.98,1015.6],[5.52,1012.6],[5.87,1014.6],[6.23,1016.7],[6.56,1017.9]];

// ---- November ----
const nov_M02 = [[-1.78,958.4],[-1.56,950],[-1.24,944.8],[-0.77,944.5],[-0.45,944.8],[0.02,942.2],[0.33,943.6],[0.65,953.2],[1.12,960.5],[1.75,966.5],[2.38,970],[3.01,979.8],[3.64,993],[3.95,999],[4.58,1006.5],[5.06,1014.3]];
const nov_M06 = [[-0.45,944.6],[0.02,945.8],[0.49,953],[0.96,960.8],[1.28,967.4]];
const nov_M08 = [[-1.24,945],[-0.77,945.5],[-0.45,945.5],[0.02,943.5],[0.33,944.5],[0.65,953]];
const nov_M10 = [[-13.52,1000.1],[-13.3,1001.7],[-13.05,998.7],[-12.73,1000.9],[-12.48,997.7],[-12.2,999.7],[-11.95,996.9],[-11.73,998.7],[-11.47,994.9],[-11.16,994.9],[-10.84,992.7],[-10.69,993.5],[-10.47,989.7],[-10.21,989.7],[-9.9,983.7],[-9.58,980.6],[-9.43,981.3],[-8.95,975.8],[-8.55,974],[-8.32,976.4],[-8.01,972.2],[-7.69,973.4],[-7.38,970.4],[-7.07,970.1],[-6.75,968.6],[-6.5,966.8],[-6.28,969.8],[-5.81,969.5],[-5.33,971.6],[-5.02,972.2],[-4.55,978.2],[-4.07,981.9],[-3.76,983.3],[-3.54,978.2],[-3.29,972.2],[-2.81,965],[-2.41,955.4],[-2.18,944.6],[-1.87,944],[-1.56,950.5],[-1.24,945.8],[-0.93,945.5],[-0.77,946],[-0.45,945.2],[-0.04,942.7],[0.3,945]];
const nov_M12 = [[-3.54,975],[-3.13,969.5],[-2.81,961],[-2.5,951.5],[-2.18,942.5],[-1.78,941.5],[-1.49,950],[-1.24,944],[-0.77,944],[-0.45,944.3],[0.02,941.5],[0.33,943],[0.65,952.8],[1.12,960],[1.75,966],[2.38,969.6],[3.01,979.2],[3.64,992.5],[3.95,998],[4.58,1003],[5.28,1012.2]];
const nov_M18 = [[-1.49,951.8],[-1.24,948.2],[-0.93,948.4],[-0.7,953],[-0.45,952.4],[-0.14,951.2],[0.02,948.4],[0.24,951.2]];
const nov_M20 = [[-5.49,1006.2],[-5.11,999.9],[-4.7,990.3],[-4.23,979.4],[-3.76,957.8],[-3.29,956.6],[-2.91,961.4],[-2.5,967.4],[-2.18,948.2],[-1.78,941.5],[-1.56,949],[-1.24,944.5],[-0.77,944],[-0.45,944.5],[0.02,942],[0.33,943.5],[0.65,953],[1.12,960],[1.75,966],[2.38,969.5],[3.01,979],[3.64,992.5],[3.95,998],[4.58,1001.7],[5.06,1008.3]];
const nov_M22 = [[-3.54,975.2],[-3.13,969.8],[-2.81,961.4],[-2.5,951.8],[-2.18,943.4],[-1.78,941],[-1.49,950.6],[-1.24,944.6],[-0.77,944.3],[-0.45,944.6],[0.02,941.9],[0.33,943.4],[0.65,953],[1.12,960.2],[1.75,966.2],[2.38,969.8],[3.01,979.4],[3.64,992.7],[3.95,998.1],[4.58,1001.7],[5.06,1008.3]];

// ---- December ----
const dec_M02 = [[-5.27,1009.9],[-5.01,1003.9],[-4.76,1000.2],[-4.49,998.6],[-4.22,996.4],[-3.96,996.4],[-3.71,997.6],[-3.44,993.7],[-3.23,991.6],[-3.02,1001.7],[-2.81,1003.6],[-2.49,1006.9],[-2.22,1005],[-1.97,1006.6],[-1.76,1001.7],[-1.55,993.4],[-1.23,984.5],[-0.92,975],[-0.6,963],[-0.29,948],[0.02,940],[0.28,943],[0.55,955],[0.97,972],[1.39,985],[1.81,989.2],[2.02,989.2],[2.27,986.2]];
const dec_M06 = [[-1.02,976.8],[-0.81,969.3],[-0.4,955.8],[-0.02,946.8],[0.34,952.8],[0.76,966.3],[1.07,981.4],[1.49,989.6]];
const dec_M08 = [[-1.02,964.8],[-0.81,964.1],[-0.5,957.3],[-0.23,942],[0.02,936.2],[0.28,940],[0.55,950],[0.86,965],[1.28,983],[1.6,988]];
const dec_M09 = [[1.75,989.6],[2.08,975.3],[2.54,978.3],[2.96,978.6],[3.38,981.7],[3.8,982.6],[4.22,987.4],[5.02,1001.7]];
const dec_M10 = [[-2.28,1005.4],[-1.97,1003.2],[-1.65,994.9],[-1.23,984.4],[-0.92,975.3],[-0.6,963.3],[-0.29,948.3],[0.02,940.8],[0.28,943.8],[0.55,955.8],[0.97,972.3],[1.39,985.1],[1.7,989.6]];
const dec_M16 = [[-0.71,1000.9],[-0.56,970.8],[-0.4,958.8],[-0.08,948.3],[0.02,946],[0.28,948],[0.55,956],[0.97,970]];
const dec_M18 = [[-1.76,970.8],[-1.49,968.6],[-1.23,971.6],[-0.92,969.6],[-0.71,967.8],[-0.29,951.3],[-0.02,944.5],[0.23,951.3],[0.65,963.3],[1.07,976.1]];
const dec_M20 = [[0.76,961],[1.07,955.8],[1.7,954.7],[2.02,945.3],[2.54,950.2],[2.96,946],[3.49,941.8],[4.01,943.8],[4.43,947.5],[4.75,952],[4.96,952.6],[5.38,949.5],[5.8,952],[6.22,957.6]];
const dec_M22 = [[-0.5,955.8],[-0.23,939.2],[0.02,937.7],[0.23,940],[0.55,949.8],[0.86,964.8],[1.28,982.9],[1.7,988.9],[1.91,973.8],[2.23,972.6],[2.54,976.1],[2.96,976.5],[3.28,979.9],[3.7,981.4],[4.22,986.9]];

// axis settings per panel
const X_RANGES = [[-4,6],[-4,8],[-10,4],[-8,6],[-6,6],[-6,6],[-6,6],[-4,8],[-16,4],[-4,8],[-15,6],[-6,8]];
const X_DTICK = [2,2,2,2,2,2,2,2,4,2,3,2];
const X_MINOR = [0.5,0.5,0.5,0.5,0.5,0.5,0.5,0.5,1,0.5,1,0.5];
const X_FMT = ['.1f','.1f','d','.1f','.1f','.1f','.1f','.1f','d','.1f','d','.1f'];
const Y_RANGES = [[920,1020],[940,1020],[920,1020],[950,1020],[960,1030],[960,1020],[970,1010],[960,1020],[950,1020],[940,1040],[940,1020],[920,1020]];
const Y_DTICK = [20,20,20,10,10,10,10,10,10,20,20,20];
const Y_MINOR = [5,5,5,2,2,2,2,2,2,5,5,5];

// assemble table from the named arrays
const PANELS = [
 {M02:jan_M02,M06:jan_M06,M08:jan_M08,M09:jan_M09,M10:jan_M10,M12:jan_M12,M16:jan_M16,M18:jan_M18,M20:jan_M20,M22:jan_M22},
 {M02:feb_M02,M06:feb_M06,M08:feb_M08,M09:feb_M09,M10:feb_M10,M12:feb_M12,M16:feb_M16,M18:feb_M18,M20:feb_M20,M22:feb_M22},
 {M02:mar_M02,M06:mar_M06,M08:mar_M08,M09:mar_M09,M10:mar_M10,M12:mar_M12,M16:mar_M16,M18:mar_M18,M20:mar_M20,M22:mar_M22},
 {M02:apr_M02,M06:apr_M06,M08:apr_M08,M09:apr_M09,M10:apr_M10,M12:apr_M12,M16:apr_M16,M18:apr_M18,M20:apr_M20,M22:apr_M22},
 {M02:may_M02,M06:may_M06,M08:may_M08,M09:may_M09,M10:may_M10,M12:may_M12,M16:may_M16,M18:may_M18,M20:may_M20,M22:may_M22},
 {M02:jun_M02,M06:jun_M06,M08:jun_M08,M09:jun_M09,M10:jun_M10,M12:jun_M12,M16:jun_M16,M18:jun_M18,M20:jun_M20,M22:jun_M22},
 {M02:jul_M02,M06:jul_M06,M08:jul_M08,M09:jul_M09,M10:jul_M10,M12:jul_M12,M16:jul_M16,M18:jul_M18,M20:jul_M20,M22:jul_M22},
 {M02:aug_M02,M06:aug_M06,M08:aug_M08,M09:aug_M09,M10:aug_M10,M12:aug_M12,M16:aug_M16,M18:aug_M18,M20:aug_M20,M22:aug_M22},
 {M02:sep_M02,M06:sep_M06,M08:sep_M08,M09:sep_M09,M10:sep_M10,M12:sep_M12,M18:sep_M18,M20:sep_M20,M22:sep_M22},
 {M02:oct_M02,M06:oct_M06,M08:oct_M08,M09:oct_M09,M10:oct_M10,M12:oct_M12,M16:oct_M16,M18:oct_M18,M20:oct_M20,M22:oct_M22},
 {M02:nov_M02,M06:nov_M06,M08:nov_M08,M10:nov_M10,M12:nov_M12,M18:nov_M18,M20:nov_M20,M22:nov_M22},
 {M02:dec_M02,M06:dec_M06,M08:dec_M08,M09:dec_M09,M10:dec_M10,M16:dec_M16,M18:dec_M18,M20:dec_M20,M22:dec_M22}
];
const DASHED = {1:['M02','M12'], 8:['M18'], 9:['M16'], 11:['M20']};

// layout geometry (pixels of the 972x1119 page)
const W = 972, H = 1119;
const COL_PX = [[53,276],[343,567],[631,853]];
const ROW_PX = [[20,242],[298,522],[577,800],[856,1078]];
const FONT = 'Liberation Sans, Arial, Helvetica, sans-serif';

const traces = [];
const shown = new Set();
const layout = {
  width: W, height: H, margin:{l:0,r:0,t:0,b:0},
  paper_bgcolor:'#fff', plot_bgcolor:'#fff',
  font:{family:FONT, color:'#000', size:12},
  showlegend:true,
  legend:{x:871/W, y:1-482/H, xanchor:'left', yanchor:'top', font:{size:15, family:FONT}, traceorder:'grouped', tracegroupgap:6, bgcolor:'rgba(0,0,0,0)'},
  annotations:[]
};

PANELS.forEach((panel, i) => {
  const r = Math.floor(i/3), c = i%3;
  const sfx = i === 0 ? '' : String(i+1);
  const xd = [COL_PX[c][0]/W, COL_PX[c][1]/W];
  const yd = [1-ROW_PX[r][1]/H, 1-ROW_PX[r][0]/H];
  const common = {
    showline:true, linecolor:'#000', linewidth:1.5, mirror:'allticks',
    ticks:'outside', ticklen:6, tickwidth:1.2, tickcolor:'#000',
    showgrid:false, zeroline:false, tickfont:{size:12, family:FONT, color:'#000'}
  };
  layout['xaxis'+sfx] = Object.assign({}, common, {
    domain:xd, range:X_RANGES[i], dtick:X_DTICK[i], tick0:0, tickformat:X_FMT[i],
    anchor:'y'+sfx,
    minor:{dtick:X_MINOR[i], tick0:0, ticks:'outside', ticklen:3.5, tickwidth:1, tickcolor:'#000'},
    title: r === 3 ? {text:'time (day)', font:{size:12, family:FONT}, standoff:4} : {text:''}
  });
  layout['yaxis'+sfx] = Object.assign({}, common, {
    domain:yd, range:Y_RANGES[i], dtick:Y_DTICK[i], tick0:0, tickformat:'d',
    anchor:'x'+sfx,
    minor:{dtick:Y_MINOR[i], tick0:0, ticks:'outside', ticklen:3.5, tickwidth:1, tickcolor:'#000'},
    title: c === 0 ? {text:'central pressure (hPa)', font:{size:12, family:FONT}, standoff:4} : {text:''}
  });
  layout.annotations.push({
    text: MONTHS[i], xref:'paper', yref:'paper', x:xd[0], y:yd[1],
    xanchor:'left', yanchor:'bottom', yshift:5, showarrow:false,
    font:{size:12, family:FONT, color:'#000'}
  });
  MODELS.forEach((m, k) => {
    const d = panel[m];
    if (!d) return;
    const dashed = (DASHED[i] || []).includes(m);
    const first = !shown.has(m);
    shown.add(m);
    traces.push({
      type:'scatter', mode:'lines', name:m, legendgroup:m, showlegend:first,
      x:d.map(p=>p[0]), y:d.map(p=>p[1]),
      xaxis:'x'+sfx, yaxis:'y'+sfx,
      line:{color:COLORS[k], width:1.6, dash: dashed ? '5px,3px' : 'solid'},
      connectgaps:false, hoverinfo:'skip'
    });
  });
});

Plotly.newPlot('chart', traces, layout, {staticPlot:true, displayModeBar:false});
</script>
</body></html>
